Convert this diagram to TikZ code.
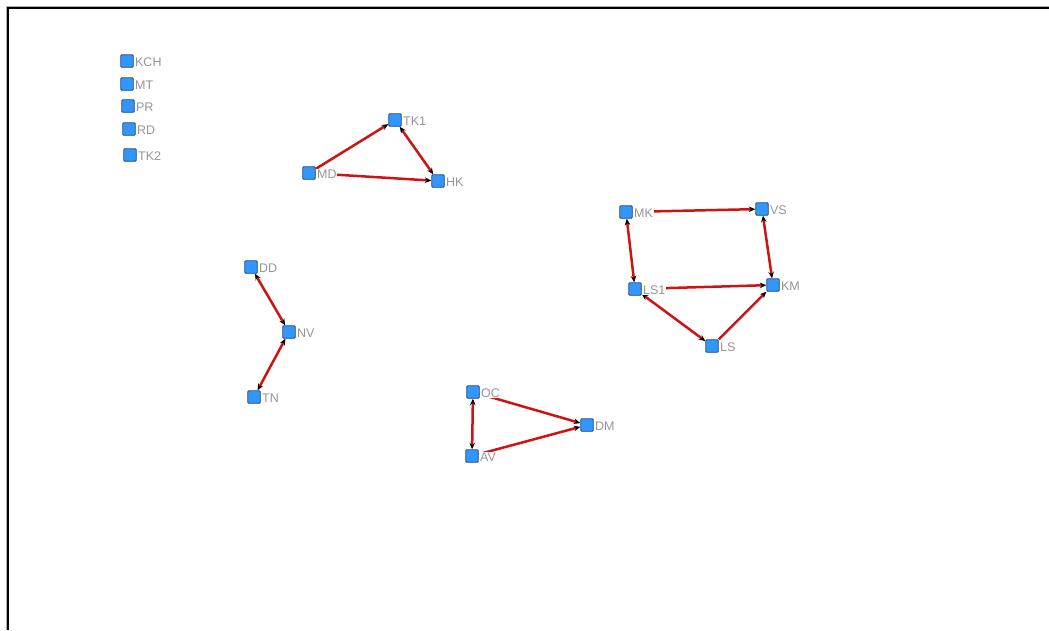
\documentclass[tikz,border=0pt]{standalone}
\usepackage{fontspec}
\setmainfont{Liberation Sans}
\usetikzlibrary{arrows.meta,backgrounds}
\definecolor{nodefill}{RGB}{51,150,250}
\definecolor{nodeline}{RGB}{35,70,130}
\definecolor{edgered}{RGB}{205,20,20}
\definecolor{labgray}{RGB}{150,150,150}
\tikzset{
  vert/.style={draw=nodeline, line width=0.8pt, fill=nodefill, minimum size=12.5pt, inner sep=0pt, rounded corners=1pt},
  vlab/.style={text=labgray, fill=white, font=\fontsize{12.5}{13}\selectfont, inner sep=0.8pt, anchor=west},
  link/.style={draw=edgered, line width=2.5pt},
  tip/.style={-{Stealth[length=6.5pt,width=5.5pt,black]}},
  tips/.style={{Stealth[length=6.5pt,width=5.5pt,black]}-{Stealth[length=6.5pt,width=5.5pt,black]}},
}
\begin{document}
\begin{tikzpicture}[x=1pt,y=-1pt]
\useasboundingbox (0,0) rectangle (1049,630);
% frame
\draw[gray!60, line width=1pt] (6.5,630) -- (6.5,6.5) -- (1049,6.5);
\draw[black, line width=1.8pt] (8,630) -- (8,8.3) -- (1049,8.3);
% nodes
\foreach \n/\x/\y in {KCH/127/61, MT/127/84, PR/128/106, RD/129/129, TK2/130/155, TK1/395/120, MD/309/173, HK/438/181, MK/626/212, VS/762/209, LS1/635/289, KM/773/285, LS/712/346, DD/251/267, NV/289/332, TN/254/397, OC/473/392, DM/587/425, AV/472/456}{
  \node[vert] (\n) at (\x,\y) {};
  \node[vlab] (\n l) at ([xshift=0.5pt,yshift=-1pt]\n.east) {\n};
}
% edges
\begin{scope}[on background layer]
\draw[link,tip] (MD) -- (TK1);
\draw[link,tip] (MD) -- (HK);
\draw[link,tips] (TK1) -- (HK);
\draw[link,tip] (MK) -- (VS);
\draw[link,tips] (MK) -- (LS1);
\draw[link,tips] (VS) -- (KM);
\draw[link,tip] (LS1) -- (KM);
\draw[link,tips] (LS1) -- (LS);
\draw[link,tip] (LS) -- (KM);
\draw[link,tips] (DD) -- (NV);
\draw[link,tips] (NV) -- (TN);
\draw[link,tips] (OC) -- (AV);
\draw[link,tip] (OC) -- (DM);
\draw[link,tip] (AV) -- (DM);
\end{scope}
\end{tikzpicture}
\end{document}
